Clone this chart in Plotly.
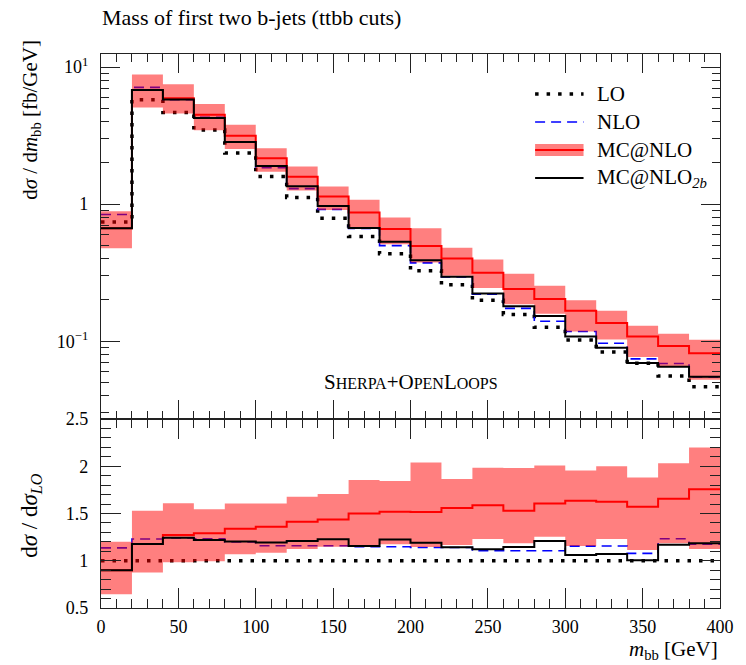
import plotly.graph_objects as go

# m_bb histogram bins [GeV]
bin_edges = [0, 20, 40, 60, 80, 100, 120, 140, 160, 180, 200,
             220, 240, 260, 280, 300, 320, 340, 360, 380, 400]

# differential cross sections [fb/GeV]
lo = [0.74, 5.77, 4.66, 3.48, 2.36, 1.59, 1.12, 0.79, 0.58, 0.434,
      0.327, 0.258, 0.199, 0.157, 0.1265, 0.102, 0.0836, 0.069, 0.0558, 0.0466]
nlo = [0.841, 7.10, 5.78, 4.29, 2.83, 1.843, 1.298, 0.916, 0.666, 0.498,
       0.373, 0.294, 0.220, 0.1736, 0.1399, 0.1178, 0.0966, 0.0744, 0.0688, 0.0548]
mcnlo = [0.666, 6.79, 5.93, 4.49, 3.16, 2.16, 1.583, 1.135, 0.87, 0.659,
         0.496, 0.402, 0.316, 0.240, 0.2033, 0.1667, 0.1358, 0.1084, 0.0924, 0.0819]
mcnlo_up = [0.888, 8.82, 7.49, 5.38, 3.79, 2.555, 1.878, 1.347, 1.075, 0.800,
            0.667, 0.481, 0.395, 0.311, 0.254, 0.1994, 0.1672, 0.1298, 0.1133, 0.1025]
mcnlo_dn = [0.477, 5.06, 4.58, 3.46, 2.52, 1.725, 1.259, 0.907, 0.673, 0.510,
            0.375, 0.301, 0.245, 0.186, 0.1586, 0.1178, 0.1028, 0.0768, 0.0661, 0.0524]
mcnlo2b = [0.666, 6.79, 5.79, 4.24, 2.84, 1.898, 1.353, 0.969, 0.670, 0.532,
           0.389, 0.295, 0.223, 0.180, 0.1528, 0.1081, 0.0895, 0.0693, 0.0652, 0.0552]

W, H = 746, 665
ML, MR, MT, MB = 101, 19, 54, 57
PW, PH = W - ML - MR, H - MT - MB
SPLIT_PX = 419                      # boundary between main and ratio panel
split = (H - MB - SPLIT_PX) / PH    # as fraction of the plot area

FONT = "Liberation Serif"
AXC = "#222222"
RED = "#ff0000"
BAND = "rgba(255,0,0,0.5)"
BLUE = "#0000ff"
DOT = "3.5px,8px"
DASH = "10px,6px"


def steps(vals):
    return list(vals) + [vals[-1]]


def ratio(vals):
    return [v / l for v, l in zip(vals, lo)]


def px(x):
    return (x - ML) / PW


def py(y):
    return (H - MB - y) / PH


fig = go.Figure()

for (xa, ya, f) in (("x", "y", lambda v: list(v)), ("x2", "y2", ratio)):
    fig.add_trace(go.Scatter(x=bin_edges, y=steps(f(lo)), mode="lines", line_shape="hv",
                             line=dict(color="black", width=3.5, dash=DOT),
                             xaxis=xa, yaxis=ya, showlegend=False, hoverinfo="skip"))
    fig.add_trace(go.Scatter(x=bin_edges, y=steps(f(nlo)), mode="lines", line_shape="hv",
                             line=dict(color=BLUE, width=1.6, dash=DASH),
                             xaxis=xa, yaxis=ya, showlegend=False, hoverinfo="skip"))
    fig.add_trace(go.Scatter(x=bin_edges, y=steps(f(mcnlo_up)), mode="lines", line_shape="hv",
                             line=dict(color="rgba(0,0,0,0)", width=0),
                             xaxis=xa, yaxis=ya, showlegend=False, hoverinfo="skip"))
    fig.add_trace(go.Scatter(x=bin_edges, y=steps(f(mcnlo_dn)), mode="lines", line_shape="hv",
                             line=dict(color="rgba(0,0,0,0)", width=0),
                             fill="tonexty", fillcolor=BAND,
                             xaxis=xa, yaxis=ya, showlegend=False, hoverinfo="skip"))
    fig.add_trace(go.Scatter(x=bin_edges, y=steps(f(mcnlo)), mode="lines", line_shape="hv",
                             line=dict(color=RED, width=2),
                             xaxis=xa, yaxis=ya, showlegend=False, hoverinfo="skip"))
    fig.add_trace(go.Scatter(x=bin_edges, y=steps(f(mcnlo2b)), mode="lines", line_shape="hv",
                             line=dict(color="black", width=2),
                             xaxis=xa, yaxis=ya, showlegend=False, hoverinfo="skip"))

axis_common = dict(showline=True, linecolor=AXC, linewidth=1.3, mirror="allticks",
                   ticks="inside", tickcolor=AXC, tickwidth=1.2, showgrid=False,
                   zeroline=False, tickfont=dict(family=FONT, size=18, color="black"))

log_minor = [m * 10.0 ** e for e in (-2, -1, 0, 1) for m in range(2, 10)]

fig.update_layout(
    width=W, height=H,
    margin=dict(l=ML, r=MR, t=MT, b=MB),
    paper_bgcolor="white", plot_bgcolor="white",
    font=dict(family=FONT, color="black"),
    xaxis=dict(domain=[0, 1], anchor="y", range=[0, 400], dtick=50, ticklen=19,
               showticklabels=False,
               minor=dict(dtick=10, ticks="inside", ticklen=8, tickcolor=AXC, showgrid=False),
               **axis_common),
    yaxis=dict(domain=[split, 1], anchor="x", type="log", range=[-1.567, 1.095],
               tickvals=[0.1, 1, 10], ticktext=["10<sup>\u22121</sup>", "1", "10<sup>1</sup>"],
               ticklen=19, ticklabelstandoff=8,
               minor=dict(tickvals=log_minor, ticks="inside", ticklen=8, tickcolor=AXC,
                          showgrid=False),
               **axis_common),
    xaxis2=dict(domain=[0, 1], anchor="y2", range=[0, 400], dtick=50, ticklen=20,
                matches="x", ticklabelstandoff=2,
                minor=dict(dtick=10, ticks="inside", ticklen=9, tickcolor=AXC, showgrid=False),
                **axis_common),
    yaxis2=dict(domain=[0, split], anchor="x2", range=[0.5, 2.5], dtick=0.5, ticklen=20,
                ticklabelstandoff=8,
                minor=dict(dtick=0.1, ticks="inside", ticklen=10, tickcolor=AXC, showgrid=False),
                **axis_common),
)

ann = []
ann.append(dict(text="Mass of first two b-jets (ttbb cuts)", x=px(100), y=py(18),
                xref="paper", yref="paper", xanchor="left", yanchor="middle",
                showarrow=False, font=dict(family=FONT, size=22)))
ann.append(dict(text="d<i>\u03c3</i> / d<i>m</i><sub>bb</sub> [fb/GeV]", x=px(30), y=py(120),
                xref="paper", yref="paper", xanchor="center", yanchor="middle",
                textangle=-90, showarrow=False, font=dict(family=FONT, size=21)))
ann.append(dict(text="d<i>\u03c3</i> / d<i>\u03c3</i><sub><i>LO</i></sub>", x=px(30), y=py(515),
                xref="paper", yref="paper", xanchor="center", yanchor="middle",
                textangle=-90, showarrow=False, font=dict(family=FONT, size=23)))
ann.append(dict(text="<i>m</i><sub>bb</sub> [GeV]", x=px(727), y=py(650),
                xref="paper", yref="paper", xanchor="right", yanchor="middle",
                showarrow=False, font=dict(family=FONT, size=21)))
ann.append(dict(text="S<span style='font-size:16px'>HERPA</span>+O<span style='font-size:16px'>PEN</span>"
                     "L<span style='font-size:16px'>OOPS</span>",
                x=px(414), y=py(382), xref="paper", yref="paper", xanchor="center",
                yanchor="middle", showarrow=False, font=dict(family=FONT, size=21)))

# legend
leg_x0, leg_x1, leg_tx = 540, 589, 601
leg_rows = [("LO", 94), ("NLO", 122), ("MC@NLO", 150), ("MC@NLO<sub><i>2b</i></sub>", 178)]
for label, yy in leg_rows:
    ann.append(dict(text=label, x=px(leg_tx), y=py(yy), xref="paper", yref="paper",
                    xanchor="left", yanchor="middle", showarrow=False,
                    font=dict(family=FONT, size=21)))

shapes = [
    dict(type="line", xref="paper", yref="paper", x0=px(leg_x0), x1=px(leg_x1),
         y0=py(94), y1=py(94), line=dict(color="black", width=3.5, dash=DOT)),
    dict(type="line", xref="paper", yref="paper", x0=px(leg_x0), x1=px(leg_x1),
         y0=py(122), y1=py(122), line=dict(color=BLUE, width=1.6, dash=DASH)),
    dict(type="rect", xref="paper", yref="paper", x0=px(leg_x0), x1=px(leg_x1),
         y0=py(156), y1=py(144), fillcolor=BAND, line=dict(width=0)),
    dict(type="line", xref="paper", yref="paper", x0=px(leg_x0), x1=px(leg_x1),
         y0=py(150), y1=py(150), line=dict(color=RED, width=2)),
    dict(type="line", xref="paper", yref="paper", x0=px(leg_x0), x1=px(leg_x1),
         y0=py(178), y1=py(178), line=dict(color="black", width=2)),
]

fig.update_layout(annotations=ann, shapes=shapes)
fig.write_html("out.html")
